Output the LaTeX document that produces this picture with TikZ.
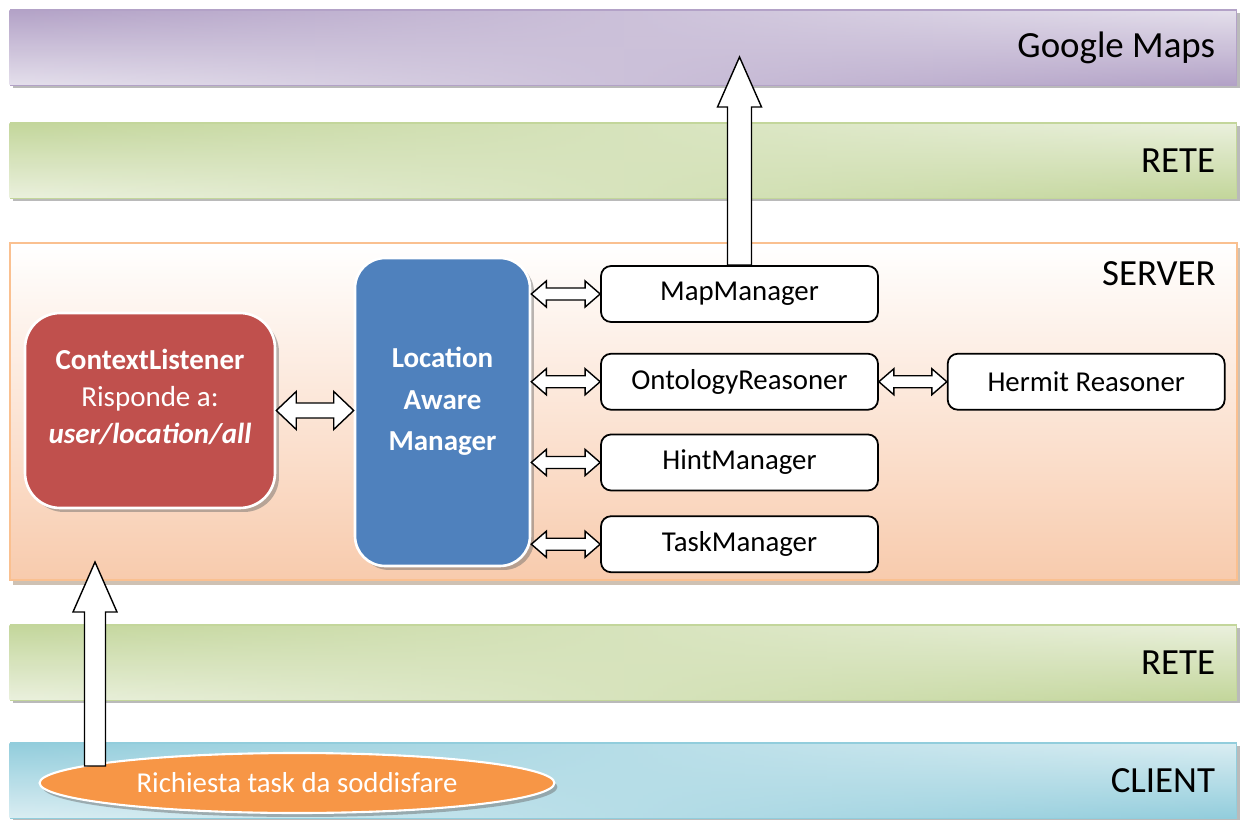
\documentclass[tikz,border=0pt]{standalone}
\usepackage{fontspec}
\setmainfont{Carlito}
\usetikzlibrary{positioning,calc,shadows,shapes.geometric,fadings}

\definecolor{gmdark}{HTML}{B3A2C7}
\definecolor{gmlight}{HTML}{E5E0EC}
\definecolor{retedark}{HTML}{C3D69B}
\definecolor{retelight}{HTML}{EBF1DE}
\definecolor{clidark}{HTML}{92CDDC}
\definecolor{clilight}{HTML}{DBEEF3}
\definecolor{srvedge}{HTML}{FAC090}
\definecolor{srvbottom}{HTML}{F8CBAD}
\definecolor{cxred}{HTML}{C0504D}
\definecolor{lamblue}{HTML}{4F81BD}
\definecolor{reqorange}{HTML}{F79646}

% hollow block arrows: from, to, half shaft, half head, head length
\newcommand{\twoway}[5]{%
  \draw[fatarrow] let \p1=(#1), \p2=(#2) in
    (\x1,\y1) -- (\x1+#5,\y1+#4) -- (\x1+#5,\y1+#3) -- (\x2-#5,\y1+#3) -- (\x2-#5,\y1+#4)
    -- (\x2,\y1) -- (\x2-#5,\y1-#4) -- (\x2-#5,\y1-#3) -- (\x1+#5,\y1-#3) -- (\x1+#5,\y1-#4) -- cycle;}
\newcommand{\goesup}[5]{%
  \draw[fatarrow] let \p1=(#1), \p2=(#2) in
    (\x1-#3,\y1) -- (\x1-#3,\y2-#5) -- (\x1-#4,\y2-#5) -- (\x1,\y2)
    -- (\x1+#4,\y2-#5) -- (\x1+#3,\y2-#5) -- (\x1+#3,\y1) -- cycle;}

\begin{document}
\begin{tikzpicture}[x=0.02cm, y=-0.02cm,
  band/.style={draw=#1dark, line width=0.6pt, minimum width=245.4mm, minimum height=15mm,
               inner sep=0pt, top color=#1light, middle color=#1light, bottom color=#1dark,
               postaction={path fading=east, top color=#1dark, middle color=#1light, bottom color=#1light},
               drop shadow={shadow xshift=0.6mm, shadow yshift=-0.6mm, fill=black!45, opacity=0.6}},
  bandtxt/.style={font=\fontsize{21}{25}\selectfont, anchor=east, inner sep=0pt},
  srv/.style={draw=srvedge, line width=1.2pt, minimum width=245.4mm, minimum height=67.4mm,
              inner sep=0pt, top color=white, middle color=white!50!srvbottom, bottom color=srvbottom,
              drop shadow={shadow xshift=0.6mm, shadow yshift=-1mm, fill=brown!60!black, opacity=0.35}},
  core/.style={draw=white, line width=1.5pt, text=white, align=center, inner sep=0pt,
               drop shadow={shadow xshift=0.8mm, shadow yshift=-0.8mm, fill=black!60, opacity=0.45}},
  mgr/.style={draw, line width=1pt, fill=white, rounded corners=2mm, minimum width=55.4mm,
              minimum height=11.2mm, inner sep=0pt, font=\fontsize{16.4}{20}\selectfont},
  reqnode/.style={ellipse, draw=white, line width=1.2pt, fill=reqorange, text=white,
                  minimum width=103mm, minimum height=12mm, inner sep=0pt,
                  font=\fontsize{16.4}{20}\selectfont,
                  drop shadow={shadow xshift=0.6mm, shadow yshift=-0.8mm, fill=black!60, opacity=0.45}},
  fatarrow/.style={draw=black, fill=white, line width=0.8pt, line join=miter},
]
\useasboundingbox (0,0) rectangle (1240,820);

% layers
\node[band=gm] (gmaps) at (623.5,47.5) {};
\node[bandtxt] (gmlbl) at ([xshift=-4.4mm]gmaps.east) {Google Maps};
\node[band=rete] (netup) at (623.5,160.5) {};
\node[bandtxt] (netuplbl) at ([xshift=-4.4mm]netup.east) {RETE};
\node[srv] (server) at (623.5,411.5) {};
\node[bandtxt] (srvlbl) at ([xshift=-4.4mm,yshift=-6.4mm]server.north east) {SERVER};
\node[band=rete] (netdown) at (623.5,662.5) {};
\node[bandtxt] (netdownlbl) at ([xshift=-4.4mm]netdown.east) {RETE};
\node[band=cli] (client) at (623.5,780.5) {};
\node[bandtxt] (clilbl) at ([xshift=-4.4mm]client.east) {CLIENT};

% server components
\node[core, fill=cxred, rounded corners=7mm, minimum width=50mm, minimum height=39mm,
      text depth=16pt, font=\fontsize{16.5}{21}\selectfont] (ctx) at (150,410.5)
  {\textbf{ContextListener}\\Risponde a:\\\textbf{\textit{user/location/all}}};
\node[core, fill=lamblue, rounded corners=6mm, minimum width=35mm, minimum height=61.6mm,
      text depth=15pt, font=\fontsize{16.5}{23.5}\selectfont\bfseries] (lam) at (442.5,412)
  {Location\\Aware\\Manager};

\node[mgr] (mapm) at (739.5,294) {MapManager};
\node[mgr, below=6mm of mapm] (onto) {OntologyReasoner};
\node[mgr, below=4.6mm of onto] (hint) {HintManager};
\node[mgr, below=4.8mm of hint] (task) {TaskManager};
\node[mgr, right=13.6mm of onto] (hermit) {Hermit Reasoner};

\node[reqnode] (req) at (297,783) {Richiesta task da soddisfare};

% arrows
\coordinate (gmtip) at (739.5,57);
\coordinate (clitip) at (95,562);
\twoway{ctx.east}{lam.west |- ctx.east}{1.5mm}{3.8mm}{4mm}
\foreach \m in {mapm,onto,hint,task}{\twoway{lam.east |- \m.west}{\m.west}{1.2mm}{2.6mm}{3mm}}
\twoway{onto.east}{hermit.west}{1.2mm}{2.6mm}{3mm}
\goesup{mapm.north}{gmtip}{2.4mm}{4.4mm}{10mm}
\goesup{$(clitip |- req.north)+(0,14)$}{clitip}{2.1mm}{4.4mm}{10mm}
\end{tikzpicture}
\end{document}
